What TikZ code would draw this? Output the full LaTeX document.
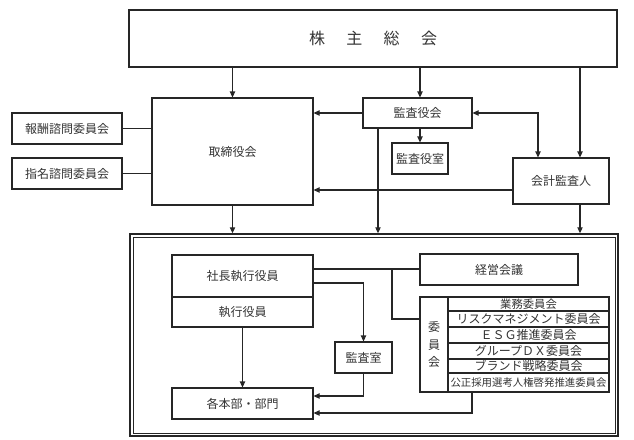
\documentclass[tikz,border=0pt]{standalone}
\usepackage{fontspec}
\newfontfamily\jp{Noto Sans CJK JP}
\usetikzlibrary{arrows.meta}
\begin{document}
\begin{tikzpicture}[x=0.75pt,y=-0.75pt,
  box/.style={draw=black!85, line width=0.8pt, inner sep=0pt, text=black!80, font=\jp\fontsize{9}{11}\selectfont},
  sz/.style 2 args={minimum width=#1*0.75pt, minimum height=#2*0.75pt},
  conn/.style={draw=black!85, line width=0.8pt},
  tip/.tip={Triangle[length=4.5pt,width=4pt]},
  arr/.style={conn, -tip},
]
\useasboundingbox (0,0) rectangle (634,439);
% helper coordinates
\coordinate (c378) at (378,0);
\coordinate (c420) at (420,0);
\coordinate (c538) at (538,0);
\coordinate (c580) at (580,0);
\coordinate (c190) at (0,190);
\coordinate (c269) at (0,269);
\coordinate (c283) at (0,283);
\coordinate (c319) at (0,319);
\coordinate (c392) at (392,0);
\coordinate (c396) at (0,396);
\coordinate (c413) at (0,413);
\coordinate (c472) at (472,0);

% top part
\node[box, sz={488}{57}, font=\jp\fontsize{12}{13}\selectfont] (sh) at (373,38.5) {株\hspace{16pt}主\hspace{16pt}総\hspace{16pt}会};
\node[box, sz={161}{107}] (tori) at (232.5,151.5) {取締役会};
\node[box, sz={110}{31}] (hoshu) at (67,128.5) {報酬諮問委員会};
\node[box, sz={110}{31}] (shimei) at (67,173.5) {指名諮問委員会};
\node[box, sz={109}{30}] (kansa) at (417.5,113) {監査役会};
\node[box, sz={56}{31}] (ksitsu) at (420,158.5) {監査役室};
\node[box, sz={96}{46}] (kaikei) at (561,181) {会計監査人};

% executive frame
\node[draw=black!85, line width=1.1pt, inner sep=0pt, sz={488}{202}] (exec) at (374,335) {};
\node[draw=black!85, line width=0.7pt, inner sep=0pt, sz={482}{196}] (execin) at (374,335) {};

\node[box, sz={141}{42}] (shacho) at (242.5,276) {社長執行役員};
\node[box, sz={141}{30}] (shikko) at (242.5,312) {執行役員};
\node[box, sz={141}{31}] (kakuhon) at (242.5,403.5) {各本部・部門};
\node[box, sz={57}{31}] (ksitsu2) at (363.5,357.5) {監査室};
\node[box, sz={158}{31}] (keiei) at (499,269.5) {経営会議};
\node[box, sz={28}{95}, align=center, font=\jp\fontsize{9}{13}\selectfont] (iinkai) at (434,344.5) {委\\員\\会};
\node[box, sz={161}{14}, font=\jp\fontsize{8.5}{9}\selectfont] (r1) at (528.5,304) {業務委員会};
\node[box, sz={161}{16}] (r2) at (528.5,319) {リスクマネジメント委員会};
\node[box, sz={161}{16}] (r3) at (528.5,335) {ＥＳＧ推進委員会};
\node[box, sz={161}{16}] (r4) at (528.5,351) {グループＤＸ委員会};
\node[box, sz={161}{14}] (r5) at (528.5,366) {ブランド戦略委員会};
\node[box, sz={161}{19}, font=\jp\fontsize{7.8}{9}\selectfont] (r6) at (528.5,382.5) {公正採用選考人権啓発推進委員会};

% connectors, top
\draw[arr] (sh.south -| tori.north) -- (tori.north);
\draw[arr] (sh.south -| c420) -- (kansa.north -| c420);
\draw[arr] (sh.south -| c580) -- (kaikei.north -| c580);
\draw[arr] (kansa.west) -- (kansa.west -| tori.east);
\draw[conn, tip-tip] (kansa.east) -| (kaikei.north -| c538);
\draw[arr] (kansa.south -| c420) -- (ksitsu.north);
\draw[arr] (kansa.south -| c378) -- (exec.north -| c378);
\draw[arr] (kaikei.west |- c190) -- (tori.east |- c190);
\draw[arr] (kaikei.south -| c580) -- (exec.north -| c580);
\draw[arr] (tori.south) -- (tori.south |- exec.north);
\draw[conn] (hoshu.east) -- (hoshu.east -| tori.west);
\draw[conn] (shimei.east) -- (shimei.east -| tori.west);

% connectors, inside
\draw[conn] (shacho.east |- c269) -- (keiei.west |- c269);
\draw[conn] (c392 |- c269) |- (iinkai.west |- c319);
\draw[arr] (shacho.east |- c283) -| (ksitsu2.north);
\draw[arr] (shikko.south) -- (kakuhon.north);
\draw[arr] (ksitsu2.south) |- (kakuhon.east |- c396);
\draw[arr] (c472 |- r6.south) |- (kakuhon.east |- c413);
\end{tikzpicture}
\end{document}
